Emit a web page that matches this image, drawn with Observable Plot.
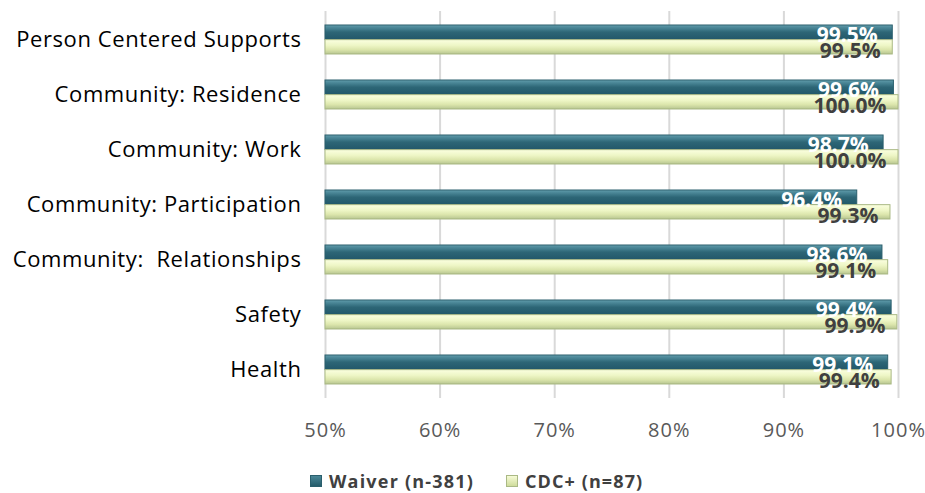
<!DOCTYPE html>
<html>
<head>
<meta charset="utf-8">
<script src="https://cdn.jsdelivr.net/npm/d3@7"></script>
<script src="https://cdn.jsdelivr.net/npm/@observablehq/plot@0.6"></script>
<style>
  html, body { margin: 0; padding: 0; background: #fff; }
  #wrap { position: relative; width: 925px; height: 493px; font-family: "Open Sans", Lato, sans-serif; }
  #legend { position: absolute; left: 0; top: 469px; width: 925px; height: 26px;
            font-weight: bold; font-size: 18px; color: #404040; }
  #legend .item { position: absolute; top: 0; display: flex; align-items: center; gap: 7px; white-space: nowrap; }
  #legend .sw { width: 12px; height: 12px; box-sizing: border-box; }
  #chart svg g[aria-label="y-axis tick label"] { letter-spacing: 0.6px; }
  #chart svg g[aria-label="x-axis tick label"] { letter-spacing: 1px; }
</style>
</head>
<body>
<div id="wrap">
  <div id="chart"></div>
  <div id="legend"></div>
</div>
<script>
// Survey domains (top to bottom) and percentage results per group
const categories = [
  "Person Centered Supports",
  "Community: Residence",
  "Community: Work",
  "Community: Participation",
  "Community:  Relationships",
  "Safety",
  "Health"
];
const waiver = [99.5, 99.6, 98.7, 96.4, 98.6, 99.4, 99.1];
const cdc = [99.5, 100.0, 100.0, 99.3, 99.1, 99.9, 99.4];
const seriesNames = ["Waiver (n-381)", "CDC+ (n=87)"];
const xTicks = [50, 60, 70, 80, 90, 100];
const baseline = 50;

const W = 925, H = 455;
const mTop = 11, mBottom = H - 398, mLeft = 325, mRight = 27;

const yOpts = {
  type: "band",
  domain: categories,
  range: [mTop, H - mBottom],
  paddingInner: 0.47,
  paddingOuter: 0.235
};
const bw = Plot.scale({y: yOpts}).bandwidth;
const half = bw / 2;

const rowsW = categories.map((c, i) => ({cat: c, value: waiver[i]}));
const rowsC = categories.map((c, i) => ({cat: c, value: cdc[i]}));
const fmt = v => d3.format(".1f")(v) + "%";

const chart = Plot.plot({
  width: W,
  height: H,
  marginTop: mTop,
  marginBottom: mBottom,
  marginLeft: mLeft,
  marginRight: mRight,
  style: {fontFamily: "'Open Sans', Lato, sans-serif", background: "#fff"},
  x: {domain: [50, 100], ticks: xTicks, label: null},
  y: {...yOpts, range: undefined, label: null},
  marks: [
    Plot.gridX(xTicks, {stroke: "#d9d9d9", strokeOpacity: 1, strokeWidth: 2}),
    Plot.barX(rowsW, {
      y: "cat", x1: () => baseline, x2: "value",
      insetBottom: half, fill: "url(#gWaiver)", stroke: "#2a5f6d", strokeWidth: 1
    }),
    Plot.barX(rowsC, {
      y: "cat", x1: () => baseline, x2: "value",
      insetTop: half, fill: "url(#gCdc)", stroke: "#aab985", strokeWidth: 1
    }),
    Plot.text(rowsW, {
      y: "cat", x: "value", text: d => fmt(d.value),
      dy: -half / 2 + 3, dx: -15, textAnchor: "end",
      fill: "#ffffff", fontSize: 21, fontWeight: "bold"
    }),
    Plot.text(rowsC, {
      y: "cat", x: "value", text: d => fmt(d.value),
      dy: half / 2 + 4, dx: -12, textAnchor: "end",
      fill: "#404040", fontSize: 21, fontWeight: "bold"
    }),
    Plot.axisX(xTicks, {
      tickSize: 0, tickPadding: 24, fontSize: 20, fill: "#595959",
      tickFormat: d => d + "%", label: null
    }),
    Plot.axisY({tickSize: 0, tickPadding: 24, fontSize: 22, fill: "#000", label: null})
  ]
});

// Bevelled fills for the two series
const svg = d3.select(chart.tagName.toLowerCase() === "svg" ? chart : chart.querySelector("svg"));
const defs = svg.insert("defs", ":first-child");
const g1 = defs.append("linearGradient").attr("id", "gWaiver").attr("x1", 0).attr("x2", 0).attr("y1", 0).attr("y2", 1);
[[0, "#6aa3b1"], [0.12, "#528e9e"], [0.35, "#3b7686"], [0.5, "#2d6676"], [1, "#22586a"]].forEach(([o, c]) =>
  g1.append("stop").attr("offset", o).attr("stop-color", c));
const g2 = defs.append("linearGradient").attr("id", "gCdc").attr("x1", 0).attr("x2", 0).attr("y1", 0).attr("y2", 1);
[[0, "#fbffe0"], [0.4, "#eef6c6"], [0.7, "#dbe5ab"], [0.9, "#c3d09a"], [1, "#b0bf88"]].forEach(([o, c]) =>
  g2.append("stop").attr("offset", o).attr("stop-color", c));

document.getElementById("chart").appendChild(chart);

// Legend below the chart
const legend = d3.select("#legend");
const swatches = [
  {name: seriesNames[0], left: 310, spacing: "1.2px", fill: "linear-gradient(#4a8797, #255c6b)", border: "#2a5f6d"},
  {name: seriesNames[1], left: 506, spacing: "1.1px", fill: "linear-gradient(#f6fbd6, #cfdc9c)", border: "#aab985"}
];
swatches.forEach(s => {
  const item = legend.append("div").attr("class", "item").style("left", s.left + "px");
  item.append("div").attr("class", "sw").style("background", s.fill).style("border", `1px solid ${s.border}`);
  item.append("span").style("letter-spacing", s.spacing).text(s.name);
});
</script>
</body>
</html>
